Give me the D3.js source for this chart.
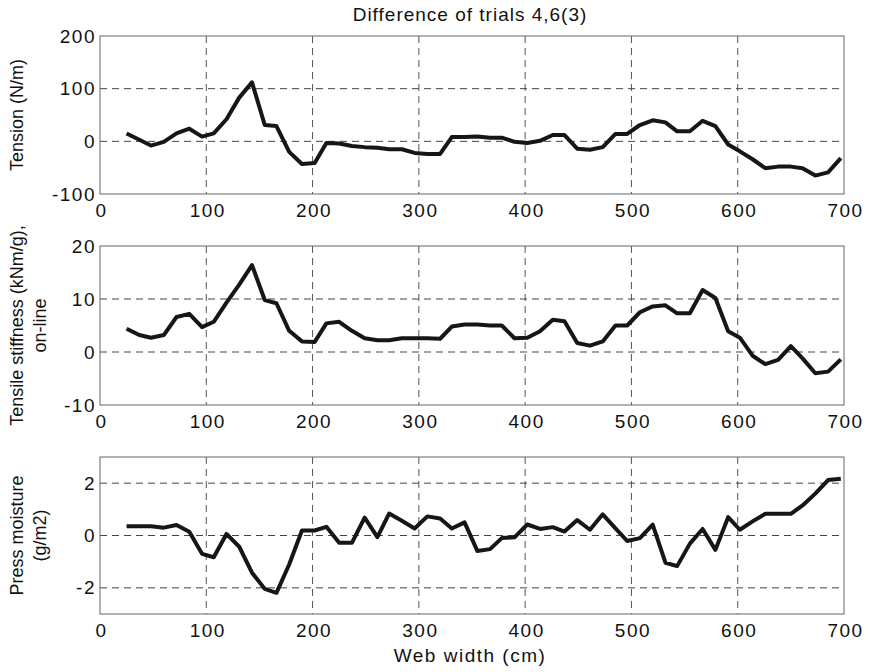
<!DOCTYPE html>
<html>
<head>
<meta charset="utf-8">
<script src="https://cdn.jsdelivr.net/npm/d3@7"></script>
<style>
body { margin: 0; background: #fff; }
svg text { font-family: "Liberation Sans", Arial, Helvetica, sans-serif; fill: #111; }
</style>
</head>
<body>
<script>
// web width positions (cm)
const widthCm = [25,37,48,60,72,84,96,107,119,131,143,155,166,178,190,202,213,225,237,249,261,272,284,296,308,320,331,343,355,367,378,390,402,414,426,437,449,461,473,485,496,508,520,532,543,555,567,579,591,602,614,626,638,650,661,673,685,697];
// difference of trials 4,6(3)
const tension = [15,3,-8,-1,15,24,9,15,42,83,112,31,29,-20,-43,-41,-3,-4,-9,-11,-12,-15,-15,-22,-24,-24,8,8,9,7,7,-1,-3,1,12,12,-14,-16,-11,14,14,31,40,36,19,19,39,29,-6,-19,-34,-51,-48,-48,-51,-65,-59,-32];
const stiffness = [4.4,3.2,2.7,3.2,6.6,7.2,4.7,5.7,9.3,12.7,16.4,9.8,9.2,4.0,2.0,1.9,5.4,5.7,4.0,2.6,2.2,2.2,2.6,2.6,2.6,2.5,4.8,5.2,5.2,5.0,5.0,2.6,2.7,3.9,6.1,5.8,1.7,1.2,2.0,5.0,5.0,7.5,8.6,8.8,7.3,7.3,11.7,10.2,3.9,2.7,-0.7,-2.3,-1.5,1.1,-1.2,-4.0,-3.7,-1.4];
const moisture = [0.35,0.35,0.35,0.3,0.4,0.14,-0.7,-0.83,0.06,-0.43,-1.42,-2.04,-2.19,-1.11,0.19,0.19,0.33,-0.28,-0.28,0.68,-0.06,0.84,0.56,0.27,0.73,0.65,0.27,0.5,-0.59,-0.52,-0.1,-0.07,0.42,0.25,0.32,0.15,0.59,0.22,0.81,0.27,-0.21,-0.1,0.42,-1.04,-1.17,-0.31,0.25,-0.55,0.7,0.22,0.54,0.83,0.83,0.83,1.15,1.6,2.12,2.17];

const xTicks = [0,100,200,300,400,500,600,700];
const tensionTicks = [-100,0,100,200];
const stiffnessTicks = [-10,0,10,20];
const moistureTicks = [-2,0,2];

const W = 870, H = 672;
const left = 100, right = 844;

const svg = d3.select("body").append("svg")
	.attr("width", W).attr("height", H);

const x = d3.scaleLinear().domain([0, 700]).range([left, right]);

const panels = [
	{values: tension, domain: [-100, 200], ticks: tensionTicks, top: 36, bottom: 194, label: ["Tension (N/m)"]},
	{values: stiffness, domain: [-10, 20], ticks: stiffnessTicks, top: 246, bottom: 405, label: ["Tensile stiffness (kNm/g),", "on-line"]},
	{values: moisture, domain: [-3, 3], ticks: moistureTicks, top: 457, bottom: 614, label: ["Press moisture", "(g/m2)"]}
];

svg.append("text")
	.attr("x", 470).attr("y", 21)
	.attr("text-anchor", "middle")
	.style("font-size", "19px")
	.style("letter-spacing", "1px")
	.text("Difference of trials 4,6(3)");

panels.forEach(function(p) {
	const y = d3.scaleLinear().domain(p.domain).range([p.bottom, p.top]);
	const g = svg.append("g");

	// dashed grid
	g.append("g").selectAll("line.vg")
		.data(xTicks.filter(t => t > 0 && t < 700))
		.join("line")
		.attr("x1", d => x(d)).attr("x2", d => x(d))
		.attr("y1", p.top).attr("y2", p.bottom)
		.attr("stroke", "#555").attr("stroke-width", 1)
		.attr("stroke-dasharray", "7,5");
	g.append("g").selectAll("line.hg")
		.data(p.ticks.filter(t => t > p.domain[0] && t < p.domain[1]))
		.join("line")
		.attr("x1", left).attr("x2", right)
		.attr("y1", d => y(d)).attr("y2", d => y(d))
		.attr("stroke", "#444").attr("stroke-width", 1)
		.attr("stroke-dasharray", "7,5");

	// box
	g.append("rect")
		.attr("x", left).attr("y", p.top)
		.attr("width", right - left).attr("height", p.bottom - p.top)
		.attr("fill", "none").attr("stroke", "#666").attr("stroke-width", 1);

	// axes (labels only)
	const ya = g.append("g")
		.attr("transform", "translate(" + left + ",0)")
		.call(d3.axisLeft(y).tickValues(p.ticks).tickSize(0).tickPadding(4).tickFormat(d => String(d)));
	ya.select(".domain").remove();
	ya.selectAll("text").style("font-size", "19px").style("letter-spacing", "1.5px").attr("fill", "#111");

	const xa = g.append("g")
		.attr("transform", "translate(0," + p.bottom + ")")
		.call(d3.axisBottom(x).tickValues(xTicks).tickSize(0).tickPadding(10).tickFormat(d => String(d)));
	xa.select(".domain").remove();
	xa.selectAll("text").style("font-size", "19px").style("letter-spacing", "1.5px").attr("dx", "1px").attr("fill", "#111");

	// data line
	const line = d3.line()
		.x((d, i) => x(widthCm[i]))
		.y(d => y(d));
	g.append("path")
		.datum(p.values)
		.attr("d", line)
		.attr("fill", "none")
		.attr("stroke", "#161616")
		.attr("stroke-width", 4)
		.attr("stroke-linejoin", "round");

	// y label
	const cy = (p.top + p.bottom) / 2;
	const lab = g.append("text")
		.attr("transform", "translate(23," + cy + ") rotate(-90)")
		.attr("text-anchor", "middle")
		.style("font-size", "18px");
	p.label.forEach(function(s, i) {
		lab.append("tspan").attr("x", 0).attr("dy", i === 0 ? 0 : 23).text(s);
	});
});

svg.append("text")
	.attr("x", 470).attr("y", 662)
	.attr("text-anchor", "middle")
	.style("font-size", "19px")
	.style("letter-spacing", "1.5px")
	.text("Web width (cm)");
</script>
</body>
</html>
